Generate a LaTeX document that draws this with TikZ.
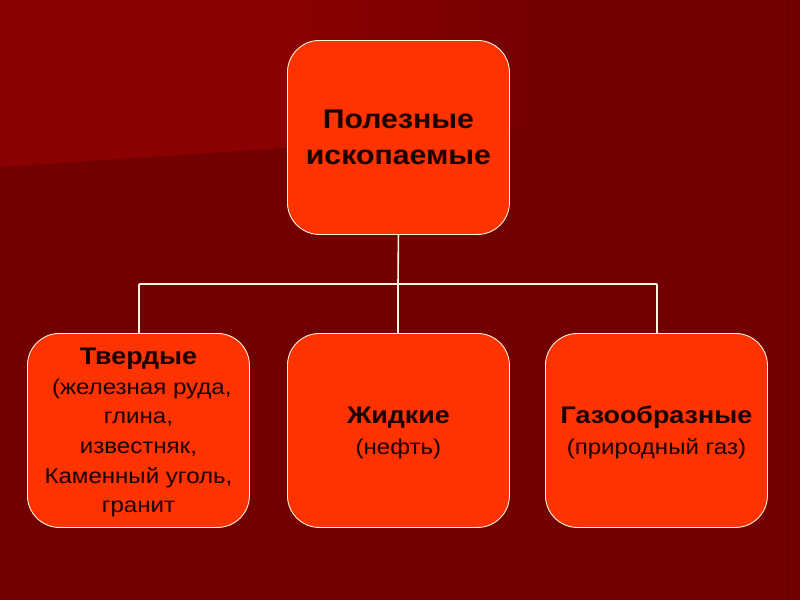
\documentclass[tikz,border=0pt]{standalone}
\usepackage{fontspec}
\setmainfont{Liberation Sans}
\newfontfamily\widefont[FakeStretch=1.12]{Liberation Sans}
\usetikzlibrary{positioning}
\definecolor{bgdark}{HTML}{720000}
\definecolor{bglight}{HTML}{8B0000}
\definecolor{boxfill}{HTML}{FF3300}
\definecolor{edge}{HTML}{FFF3E0}
\definecolor{ink}{HTML}{1A0000}
\tikzset{
  catbox/.style={draw=edge, line width=0.9pt, fill=boxfill, rounded corners=32pt,
    minimum width=222pt, minimum height=194pt, inner sep=0pt, align=center,
    text=ink, anchor=north west, text depth=-4pt},
  link/.style={draw=edge, line width=1.6pt}
}
\begin{document}
\begin{tikzpicture}[x=1pt,y=-1pt]
\useasboundingbox (0,0) rectangle (800,600);
\fill[bgdark] (0,0) rectangle (800,600);
\fill[bglight] (0,0) -- (300,0) -- (300,147) -- (0,167) -- cycle;
\shade[left color=bglight, right color=bgdark] (299.5,0) -- (560,0) -- (560,129) -- (299.5,147) -- cycle;
\fill[bgdark!92!black] (786,0) rectangle (788,600);

\node[catbox, font=\widefont\fontsize{27}{36}\selectfont\bfseries] (top) at (287,40) {Полезные\ \\ ископаемые};
\node[catbox, font=\widefont\fontsize{21.5}{29.6}\selectfont] (solid) at (27,333) {\textbf{\fontsize{24}{29.6}\selectfont Твердые}\\ \ (железная руда,\\ глина,\\ известняк,\\ Каменный уголь,\\ гранит};
\node[catbox, font=\widefont\fontsize{21.5}{31}\selectfont] (liquid) at (287,333) {\textbf{\fontsize{24}{31}\selectfont Жидкие}\\ (нефть)};
\node[catbox, font=\widefont\fontsize{21.5}{31}\selectfont] (gas) at (545,333) {\textbf{\fontsize{24}{31}\selectfont Газообразные}\\ (природный газ)};

\coordinate (hub) at (398,284);
\coordinate (hl) at (139,284);
\coordinate (hr) at (657,284);
\draw[link] (top.south) -- (hub);
\draw[link] (hl) -- (hr);
\draw[link] (hl) -- (hl |- solid.north);
\draw[link] (hub) -- (hub |- liquid.north);
\draw[link] (hr) -- (hr |- gas.north);
\end{tikzpicture}
\end{document}
